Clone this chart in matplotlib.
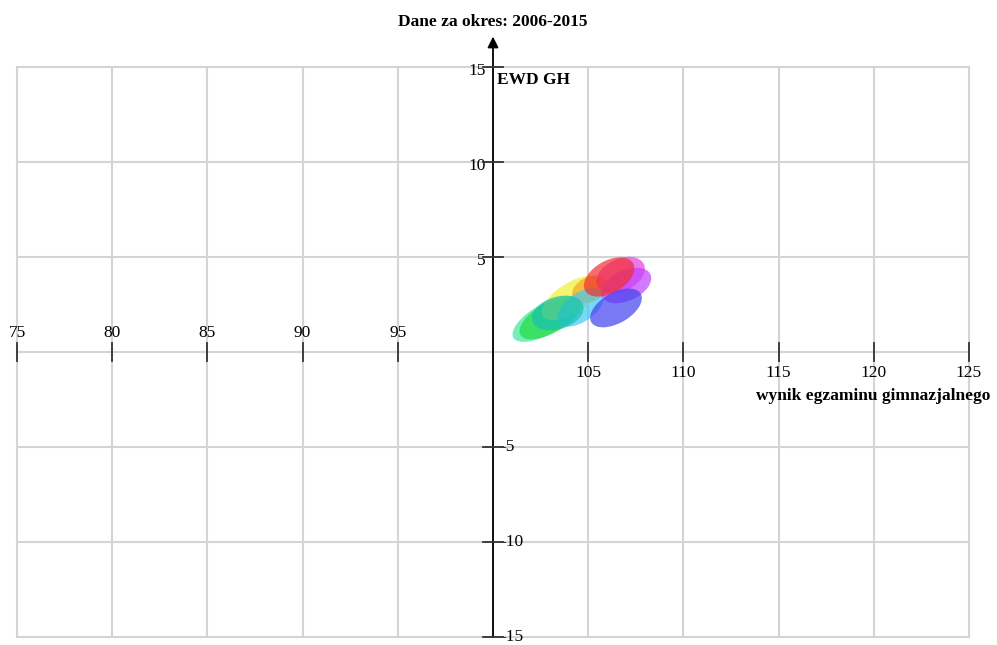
import matplotlib.pyplot as plt
from matplotlib.patches import Ellipse

plt.rcParams["font.family"] = ["Liberation Serif", "DejaVu Serif"]

# x ticks / y ticks of the chart
x_ticks = [75, 80, 85, 90, 95, 105, 110, 115, 120, 125]
y_ticks = [15, 10, 5, -5, -10, -15]

# one ellipse per year (center x, center y, width, height, angle), in drawing order
cx = [102.8, 103.0, 104.15, 105.1, 104.6, 103.4, 106.7, 107.0, 106.1, 106.46]
cy = [1.75, 1.8, 2.85, 3.3, 2.35, 2.05, 4.05, 3.5, 3.95, 2.32]
ew = [4.0, 3.6, 3.6, 2.0, 2.8, 2.8, 2.7, 2.8, 2.9, 3.0]
eh = [1.6, 1.6, 1.6, 1.3, 1.5, 1.7, 1.7, 1.6, 1.7, 1.6]
ang = [30, 30, 32, 25, 35, 18, 25, 25, 30, 30]
colors = ["#3ee6a0", "#22dd44", "#f2f030", "#f5a623", "#40c8f5",
          "#18c0b0", "#e63ce6", "#c040ff", "#f03030", "#4040f0"]

fig = plt.figure(figsize=(9.97, 6.45), dpi=100)
ax = fig.add_axes([0, 0, 1, 1])
ax.set_xlim(74.107, 126.47)
ax.set_ylim(-15.42, 18.526)
ax.axis("off")

# grid
for v in range(75, 126, 5):
    ax.plot([v, v], [-15, 15], color="#d4d4d4", lw=1.5, zorder=1)
for v in range(-15, 16, 5):
    ax.plot([75, 125], [v, v], color="#d4d4d4", lw=1.5, zorder=1)

# ellipses
for i in range(len(cx)):
    e = Ellipse((cx[i], cy[i]), ew[i], eh[i], angle=ang[i],
                facecolor=colors[i], edgecolor="none", alpha=0.7, zorder=3)
    ax.add_patch(e)

# axes with arrows
ax.annotate("", xy=(126.5, 0), xytext=(75, 0),
            arrowprops=dict(arrowstyle="-|>", color="black", lw=1.3,
                            mutation_scale=16, shrinkA=0, shrinkB=0), zorder=4)
ax.annotate("", xy=(100, 16.6), xytext=(100, -15),
            arrowprops=dict(arrowstyle="-|>", color="black", lw=1.3,
                            mutation_scale=16, shrinkA=0, shrinkB=0), zorder=4)

# ticks and labels
for t in x_ticks:
    ax.plot([t, t], [-0.45, 0.45], color="#333333", lw=1.3, zorder=4)
    if t < 100:
        ax.text(t, 1.0, str(t), ha="center", va="center", fontsize=12.5)
    else:
        ax.text(t, -1.1, str(t), ha="center", va="center", fontsize=12.5)
for t in y_ticks:
    ax.plot([99.45, 100.55], [t, t], color="#333333", lw=1.3, zorder=4)
    if t > 0:
        ax.text(99.6, t - 0.2, str(t), ha="right", va="center", fontsize=12.5)
    else:
        ax.text(100.4, t, str(t), ha="left", va="center", fontsize=12.5)

ax.text(100, 17.35, "Dane za okres: 2006-2015", ha="center", va="center",
        fontsize=12.5, fontweight="bold")
ax.text(100.2, 14.3, "EWD GH", ha="left", va="center",
        fontsize=12.5, fontweight="bold")
ax.text(126.1, -2.3, "wynik egzaminu gimnazjalnego", ha="right", va="center",
        fontsize=12.5, fontweight="bold")

fig.savefig("out.png", dpi=100)
